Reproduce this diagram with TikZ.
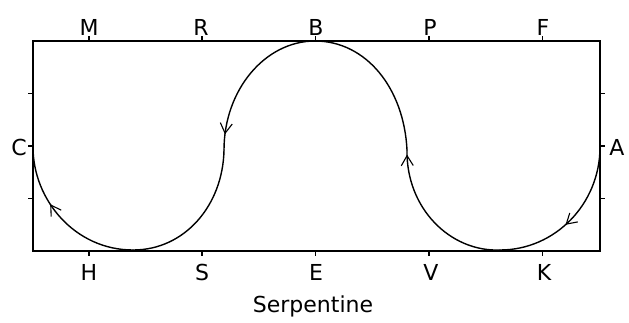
\documentclass[tikz,border=0pt]{standalone}
\usepackage{fontspec}
\setmainfont{DejaVu Sans}
\usetikzlibrary{arrows.meta,decorations.markings}
\tikzset{
  frame/.style={line width=2.6pt, line join=miter},
  tick/.style={line width=1.6pt},
  curve/.style={line width=1.4pt, line cap=round},
  lbl/.style={font=\fontsize{22}{26}\selectfont, inner sep=0pt},
  midarrow/.style={postaction={decorate, decoration={markings,
      mark=at position #1 with {\arrow{Straight Barb[length=10pt,width=12pt,line width=1.1pt]}}}}}
}
\begin{document}
\begin{tikzpicture}[x=1pt,y=-1pt]
\useasboundingbox (0,0) rectangle (629,322);
% frame
\coordinate (TL) at (33,41);
\coordinate (BR) at (600,251);
\draw[frame] (TL) rectangle (BR);
% ticks
\foreach \x in {88.7,202.1,315.5,428.9,542.3}{
  \draw[tick] (\x,41) -- (\x,36);
  \draw[tick] (\x,251) -- (\x,256);
}
\foreach \y in {93.5,146,198.5}{
  \draw[tick] (33,\y) -- (28,\y);
  \draw[tick] (600,\y) -- (605,\y);
}
% curve points
\coordinate (A) at (600,147);
\coordinate (K1) at (500,250);
\coordinate (V1) at (407,150);
\coordinate (B) at (315,41);
\coordinate (S1) at (224,150);
\coordinate (H1) at (133,250);
\coordinate (C) at (33,147);
\draw[curve, midarrow=0.55] (A) .. controls (600,204) and (555,250) .. (K1);
\draw[curve, midarrow=0.97] (K1) .. controls (450,252) and (406,208) .. (V1);
\draw[curve] (V1) .. controls (404,88) and (366,41) .. (B);
\draw[curve, midarrow=0.9] (B) .. controls (265,41) and (224,90) .. (S1);
\draw[curve] (S1) .. controls (223,205) and (185,250) .. (H1);
\draw[curve, midarrow=0.62] (H1) .. controls (75,250) and (33,200) .. (C);
% labels
\node[lbl] (lM) at (89,27) {M};
\node[lbl] (lR) at (201,27) {R};
\node[lbl] (lB) at (316,27) {B};
\node[lbl] (lP) at (430,27) {P};
\node[lbl] (lF) at (543,27) {F};
\node[lbl] (lH) at (89,272) {H};
\node[lbl] (lS) at (202,272) {S};
\node[lbl] (lE) at (316,272) {E};
\node[lbl] (lV) at (431,272) {V};
\node[lbl] (lK) at (544,272) {K};
\node[lbl] (lC) at (19,147) {C};
\node[lbl] (lA) at (617,147) {A};
\node[lbl] (title) at (313,306) {Serpentine};
\end{tikzpicture}
\end{document}
